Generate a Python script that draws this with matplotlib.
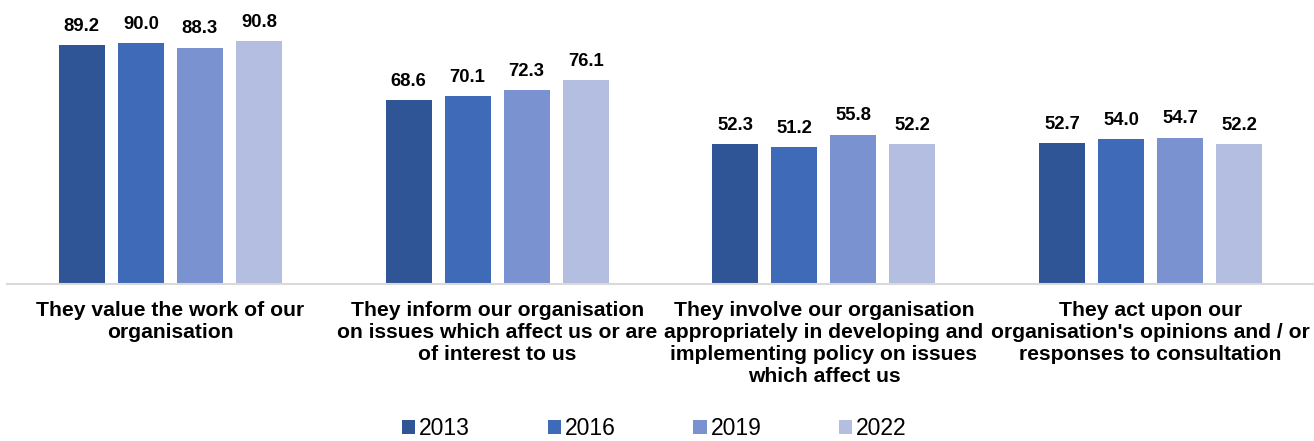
import matplotlib
import matplotlib.pyplot as plt
import numpy as np

matplotlib.use('Agg')

plt.rcParams['font.family'] = ['Liberation Sans', 'DejaVu Sans']

# Data
categories = ['They value the work of our\norganisation',
              'They inform our organisation\non issues which affect us or are\nof interest to us',
              'They involve our organisation\nappropriately in developing and\nimplementing policy on issues\nwhich affect us',
              "They act upon our\norganisation's opinions and / or\nresponses to consultation"]
years = ['2013', '2016', '2019', '2022']
values_2013 = [89.2, 68.6, 52.3, 52.7]
values_2016 = [90.0, 70.1, 51.2, 54.0]
values_2019 = [88.3, 72.3, 55.8, 54.7]
values_2022 = [90.8, 76.1, 52.2, 52.2]
series = [values_2013, values_2016, values_2019, values_2022]
colors = ['#2F5597', '#3E6AB8', '#7A92D0', '#B3BEE0']

fig = plt.figure(figsize=(13.14, 4.41), dpi=100)
ax = fig.add_axes([7 / 1314, 157 / 441, 1307 / 1314, 1 - 157 / 441 - 16.2 / 441])

x = np.arange(len(categories))
step = 0.1806
width = 0.141
for i, (vals, year, col) in enumerate(zip(series, years, colors)):
    pos = x + (i - 1.5) * step
    ax.bar(pos, vals, width, color=col, label=year)
    for xp, v in zip(pos, vals):
        ax.annotate(f'{v:.1f}', (xp, v), xytext=(0, 13.5), textcoords='offset points',
                    ha='center', va='center', fontsize=13.3, fontweight='bold',
                    color='black', annotation_clip=False)

ax.set_xlim(-0.5, 3.5)
ax.set_ylim(0, 100)
ax.set_xticks(x)
ax.set_xticklabels(categories, fontsize=15.2, fontweight='bold', linespacing=1.2)
ax.tick_params(axis='x', length=0, pad=12.5)
ax.set_yticks([])
for side in ['top', 'right', 'left']:
    ax.spines[side].set_visible(False)
ax.spines['bottom'].set_color('#D9D9D9')
ax.spines['bottom'].set_linewidth(1.5)

fig.legend(loc='center', bbox_to_anchor=(0.498, 0.028), ncol=4, frameon=False,
           fontsize=16.5, handlelength=0.57, handleheight=0.57, handletextpad=0.17,
           columnspacing=3.4, borderaxespad=0, borderpad=0)

fig.savefig('out.png', dpi=100)
